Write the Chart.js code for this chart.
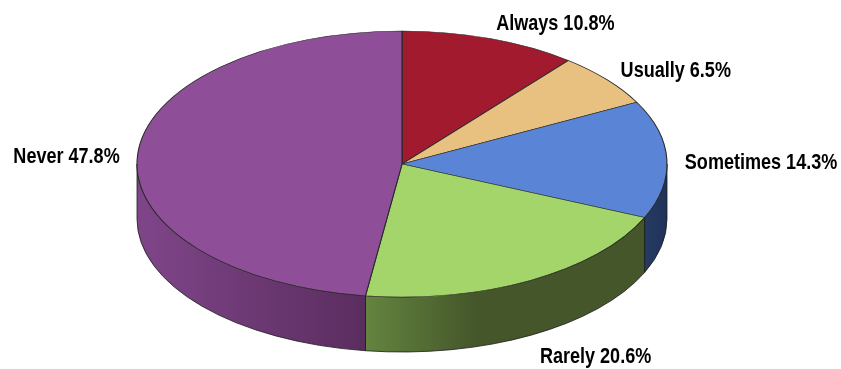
<!DOCTYPE html>
<html>
<head>
<meta charset="utf-8">
<script src="https://cdn.jsdelivr.net/npm/chart.js@4"></script>
<style>
  html, body { margin: 0; padding: 0; background: #fff; }
  #chart { display: block; }
</style>
</head>
<body>
<canvas id="chart" width="841" height="369"></canvas>
<script>
// data
const categories = ['Always', 'Usually', 'Sometimes', 'Rarely', 'Never'];
const shares = [10.8, 6.5, 14.3, 20.6, 47.8];

// colours: top face, and the side wall (light -> dark)
const topColors = ['#A11A2E', '#E8C181', '#5A84D6', '#A3D56A', '#8E4F98'];
const sideColors = [
  ['#6E1220', '#5A0E1A'],
  ['#A88650', '#8C6E40'],
  ['#263A62', '#20325A'],
  ['#64843F', '#44562A'],
  ['#7F4589', '#5A2D5F']
];

const RX = 265, RY = 133, DEPTH = 55;

const pie3d = {
  id: 'pie3d',
  beforeDatasetsDraw(chart) {
    const ctx = chart.ctx;
    const arcs = chart.getDatasetMeta(0).data;
    const { x: cx, y: cy, outerRadius: R } = arcs[0];

    // side walls for the front half of the ellipse
    arcs.forEach((arc, i) => {
      const a = Math.max(arc.startAngle, 0);
      const b = Math.min(arc.endAngle, Math.PI);
      if (b <= a) return;
      const xa = cx + RX * Math.cos(a), xb = cx + RX * Math.cos(b);
      const left = Math.min(xa, xb), right = Math.max(xa, xb);
      const g = ctx.createLinearGradient(left, 0, right, 0);
      g.addColorStop(0, sideColors[i][0]);
      g.addColorStop(i === 3 ? 0.4 : 1, sideColors[i][1]);
      if (i === 3) g.addColorStop(1, sideColors[i][1]);

      ctx.save();
      ctx.beginPath();
      ctx.ellipse(cx, cy, RX, RY, 0, a, b);
      ctx.lineTo(cx + RX * Math.cos(b), cy + RY * Math.sin(b) + DEPTH);
      ctx.ellipse(cx, cy + DEPTH, RX, RY, 0, b, a, true);
      ctx.closePath();
      ctx.fillStyle = g;
      ctx.fill();
      ctx.lineWidth = 0.8;
      ctx.strokeStyle = '#1c1c1c';
      ctx.stroke();
      ctx.restore();
    });

    // squash the library's own pie into the top face
    ctx.save();
    ctx.translate(cx, cy);
    ctx.scale(RX / R, RY / R);
    ctx.translate(-cx, -cy);
  },
  afterDatasetsDraw(chart) {
    const ctx = chart.ctx;
    ctx.restore();

    const arcs = chart.getDatasetMeta(0).data;
    const values = chart.data.datasets[0].data;
    ctx.save();
    ctx.fillStyle = '#000';
    ctx.font = 'bold 22px "Liberation Sans", Arial, sans-serif';
    ctx.textBaseline = 'middle';
    arcs.forEach((arc, i) => {
      const m = (arc.startAngle + arc.endAngle) / 2;
      const c = Math.cos(m), s = Math.sin(m);
      const x = arc.x + (RX + 18) * c;
      const y = arc.y + (RY + 20) * s + (s > 0 ? DEPTH : 0) + 4;
      const text = chart.data.labels[i] + ' ' + values[i].toFixed(1) + '%';
      ctx.save();
      ctx.translate(x, y);
      ctx.scale(0.82, 1);
      ctx.textAlign = c > 0.25 ? 'left' : (c < -0.25 ? 'right' : 'center');
      ctx.fillText(text, 0, 0);
      ctx.restore();
    });
    ctx.restore();
  }
};

new Chart(document.getElementById('chart'), {
  type: 'pie',
  data: {
    labels: categories,
    datasets: [{
      data: shares,
      backgroundColor: topColors,
      borderColor: '#2a2a2a',
      borderWidth: 0.7
    }]
  },
  options: {
    responsive: false,
    animation: false,
    layout: { padding: { left: 0, right: 37, top: 0, bottom: 41 } },
    plugins: {
      legend: { display: false },
      tooltip: { enabled: false }
    }
  },
  plugins: [pie3d]
});
</script>
</body>
</html>
